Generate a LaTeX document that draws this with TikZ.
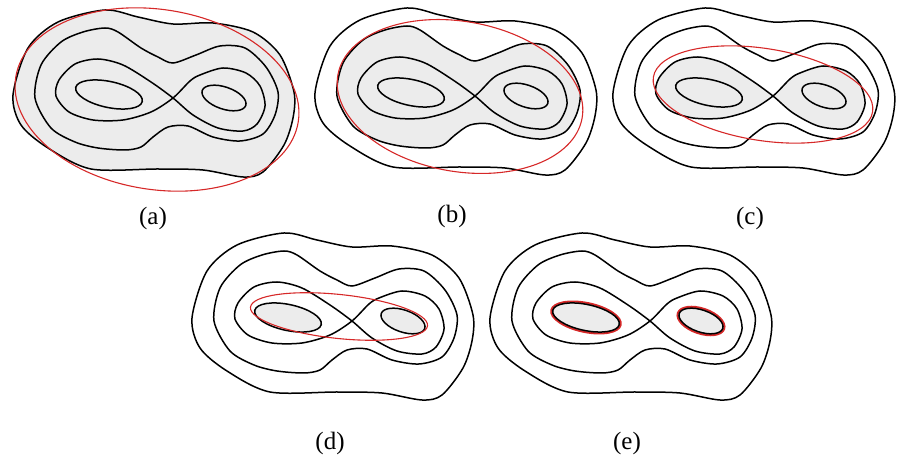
\documentclass[tikz,border=0pt]{standalone}
\usepackage{fontspec}
\setmainfont{Liberation Serif}
\usepackage{tikz}
\usepackage{xcolor}
\definecolor{fitred}{RGB}{214, 40, 40}
\definecolor{regiongray}{RGB}{236, 236, 236}

% level curves, coordinates relative to the saddle point
\newcommand{\outerlevel}{plot[smooth cycle] coordinates {(-68,88) (-35,81) (0,74) (40,75) (80,66) (107,43) (121,6) (120,-20) (111,-47) (90,-74) (70,-79) (30,-72) (-15,-71) (-82,-71) (-125,-50) (-152,-27) (-160,3) (-145,50) (-115,76)}}
\newcommand{\secondlevel}{plot[smooth cycle] coordinates {(-138,0) (-132,33) (-112,56) (-90,66) (-68,70) (-55,66) (-32,50) (-15,41) (0,35) (23,43) (47,52) (72,50) (93,31) (105,6) (102,-17) (90,-36) (67,-43) (40,-39) (15,-28) (-5,-29) (-20,-39) (-32,-49) (-48,-52) (-75,-50) (-98,-44) (-122,-30)}}
\newcommand{\eightlevel}{plot[smooth cycle] coordinates {(0,0) (-22,16) (-50,33) (-75,39) (-98,34) (-114,18) (-117,2) (-104,-14) (-80,-22) (-50,-22) (-22,-14) (0,0) (17,17) (27,23) (50,30) (73,25) (87,12) (92,-8) (84,-26) (70,-33) (45,-30) (20,-17)}}

\tikzset{
  level/.style={line width=0.75pt, black},
  fitcurve/.style={line width=0.55pt, fitred},
  region/.style={fill=regiongray},
  leftwell/.style={shift={(-64,3.5)}, rotate=-12},
  rightwell/.style={shift={(51,0)}, rotate=-19},
  panellabel/.style={font=\fontsize{12.5}{15}\selectfont, inner sep=0pt},
  levelsets/.pic={
    \draw[level] \outerlevel;
    \draw[level] \secondlevel;
    \draw[level] \eightlevel;
    \draw[level, leftwell] (0,0) ellipse (34 and 13);
    \draw[level, rightwell] (0,0) ellipse (23 and 11);
  }
}

\begin{document}
\begin{tikzpicture}[x=0.5pt, y=0.5pt]
  \useasboundingbox (0,0) rectangle (901,455);
  % (a)
  \begin{scope}[shift={(173,357)}]
    \fill[region] \outerlevel;
    \pic {levelsets};
    \draw[fitcurve, shift={(-16,-1.5)}, rotate=-9] (0,0) ellipse (143 and 90);
    \node[panellabel] (labela) at (-20,-120) {(a)};
  \end{scope}
  % (b)
  \begin{scope}[shift={(475,359)}]
    \fill[region] \secondlevel;
    \pic {levelsets};
    \draw[fitcurve, shift={(-15,-0.5)}, rotate=-10] (0,0) ellipse (124 and 75);
    \node[panellabel] (labelb) at (-23,-120) {(b)};
  \end{scope}
  % (c)
  \begin{scope}[shift={(773,359)}]
    \fill[region] \eightlevel;
    \pic {levelsets};
    \draw[fitcurve, shift={(-10,1.5)}, rotate=-9] (0,0) ellipse (111 and 46);
    \node[panellabel] (labelc) at (-23,-122) {(c)};
  \end{scope}
  % (d)
  \begin{scope}[shift={(352,134)}]
    \fill[region, leftwell] (0,0) ellipse (34 and 13);
    \fill[region, rightwell] (0,0) ellipse (23 and 11);
    \pic {levelsets};
    \draw[fitcurve, shift={(-13,4.5)}, rotate=-6] (0,0) ellipse (89 and 22);
    \node[panellabel] (labeld) at (-22,-122) {(d)};
  \end{scope}
  % (e)
  \begin{scope}[shift={(650,134)}]
    \fill[region, leftwell] (0,0) ellipse (34 and 13);
    \fill[region, rightwell] (0,0) ellipse (23 and 11);
    \draw[fitcurve, line width=1pt, leftwell] (0,0) ellipse (35.5 and 14.5);
    \draw[fitcurve, line width=1pt, rightwell] (0,0) ellipse (24.5 and 12.5);
    \pic {levelsets};
    \node[panellabel] (labele) at (-23,-122) {(e)};
  \end{scope}
\end{tikzpicture}
\end{document}
